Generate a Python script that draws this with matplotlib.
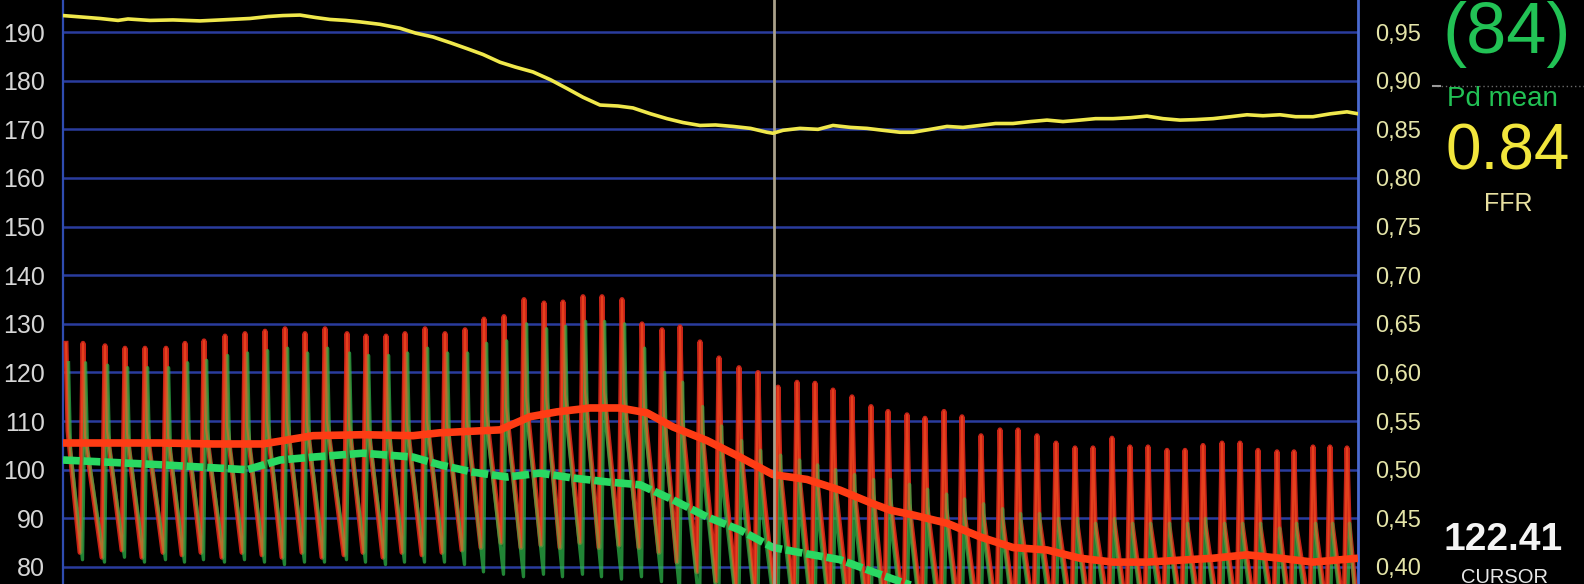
import numpy as np
import matplotlib
matplotlib.use("Agg")
import matplotlib.pyplot as plt
from matplotlib.lines import Line2D

# ---------------- data ----------------
# Beat (systolic peak) times, seconds
beat_t = [0.12, 0.80, 1.68, 2.48, 3.28, 4.12, 4.88, 5.64, 6.48, 7.28, 8.08, 8.88, 9.68, 10.48,
          11.36, 12.12, 12.92, 13.68, 14.48, 15.28,
          16.08, 16.84, 17.64, 18.44, 19.24, 20.00, 20.80, 21.56, 22.36, 23.16, 23.96, 24.68,
          25.48, 26.24, 27.04, 27.80, 28.60, 29.36, 30.08, 30.80, 31.56, 32.32, 33.00,
          33.76, 34.48, 35.24, 35.96, 36.72, 37.48, 38.20, 38.96, 39.72, 40.48, 41.20, 41.96,
          42.68, 43.40, 44.16, 44.88, 45.60, 46.36, 47.08, 47.80, 48.56, 49.24, 50.00, 50.68, 51.36]

# Aortic pressure (Pa, red) per beat: systolic peak, dicrotic level, following trough (mmHg)
pa_peak = [126, 126, 125.5, 125, 125, 125, 126, 126.5, 127.5, 128, 128.5, 129, 128, 129, 128,
           127.5, 127.5, 128, 129, 128,
           128.8, 131, 131.5, 135, 134.3, 134.5, 135.6, 135.6, 135, 130, 128.8, 129.4, 126.3,
           123, 121, 120, 117, 118, 117.8, 116.4, 115, 113, 112,
           111.3, 110.6, 112, 110.9, 107, 108.2, 108.2, 107, 105.5, 104.5, 104.5, 106.5, 104.7,
           104.7, 104, 104, 105, 105.5, 105.5, 104, 103.7, 103.7, 104.7, 104.7, 104.5]
pa_notch = [108, 107, 108, 107.5, 108, 107, 108, 108.5, 109, 109, 110, 110, 109.5, 110, 109.5,
            109, 109, 109.5, 110, 109.5,
            110, 112, 113, 115, 115, 115.5, 116, 116, 115, 113, 111, 110, 108, 106, 104, 102,
            100, 99, 98, 97, 96, 95, 94,
            93, 92.5, 92, 91.5, 91, 90.5, 90, 90, 89.5, 89, 89, 89.5, 89, 89, 88.5, 88.5, 89,
            89, 89, 88.5, 88.5, 88.5, 89, 89, 89]
pa_trough = [83, 82, 83.5, 82, 83, 82.5, 83, 82, 83, 82.5, 82, 83, 82, 82.5, 83, 82, 83, 82.5,
             83, 83.5,
             84, 85, 84, 84.5, 84, 85, 84, 84.5, 84, 83, 81, 79, 77, 75, 74, 73, 72.5, 72, 71.5,
             71, 70.5, 70, 70,
             70, 69.5, 70, 69.5, 69, 70, 69.5, 70, 69, 69.5, 70, 69.5, 69, 70, 69.5, 70, 69,
             69.5, 70, 69.5, 69, 70, 69.5, 70, 69.5]

# Distal pressure (Pd, green) per beat
pd_peak = [122, 122, 121.5, 121, 121, 121, 122, 122.5, 123.5, 124, 124.5, 125, 124, 125, 124,
           123.5, 123.5, 124, 125, 124,
           124, 126, 126.5, 130, 129, 129.5, 130.5, 130.5, 130, 125, 120, 118, 113, 109, 106,
           104, 103, 102, 101, 100, 99, 98, 98,
           97, 96, 95, 94, 93, 92, 91, 91, 90, 90, 89, 90, 89, 89, 89, 89, 90, 89, 89, 89, 88,
           89, 89, 89, 89]
pd_notch = [104, 104, 104.5, 104, 104, 103.5, 104, 104.5, 105, 105, 106, 106, 105.5, 106, 105,
            105, 105, 105, 105.5, 105,
            105, 106, 107, 108, 108, 108, 108.5, 108, 107.5, 106, 103, 100, 97, 95, 93, 91,
            90, 89, 88, 87.5, 87, 86.5, 86,
            85.5, 85, 85, 84.5, 84, 84, 83.5, 83.5, 83, 83, 83, 83, 82.5, 82.5, 82.5, 82.5, 83,
            82.5, 82.5, 82.5, 82, 82.5, 82.5, 82.5, 82.5]
pd_trough = [81.5, 81, 82, 81, 81.5, 81, 81.5, 81, 81.5, 81, 80.5, 81, 81, 81.5, 81, 80.5, 81,
             81, 81, 80.5,
             79, 78.5, 78, 78.5, 78, 78.5, 78, 77.5, 78, 77, 75, 72, 70, 68, 67, 66, 65, 64, 64,
             63, 63, 62, 62,
             62, 62, 62, 62, 62, 62, 62, 62, 62, 62, 62, 62, 62, 62, 62, 62, 62, 62, 62, 62, 62,
             62, 62, 62, 62]

# Mean pressures (mmHg)
pa_mean_t = [0.0, 4.0, 6.0, 8.0, 10.0, 12.0, 14.0, 15.08, 17.48, 18.68, 19.76, 21.08, 22.28,
             23.36, 24.4, 25.76, 27.08, 28.4, 29.76, 31.08, 32.4, 33.08, 34.0, 35.36, 36.68,
             38.0, 39.36, 40.68, 42.0, 43.36, 44.68, 46.0, 47.36, 48.68, 50.0, 51.8]
pa_mean = [105.5, 105.5, 105.3, 105.3, 107.0, 107.2, 107.0, 107.6, 108.2, 110.9, 111.9, 112.7,
           112.7, 111.7, 108.8, 106.0, 102.6, 99.0, 98.0, 95.8, 93.0, 91.7, 90.7, 89.0, 86.2,
           84.0, 83.5, 81.8, 81.0, 81.0, 81.4, 81.8, 82.5, 81.8, 81.0, 81.8]
pd_mean_t = [0.0, 2.0, 4.0, 6.0, 7.36, 8.68, 10.0, 12.0, 14.0, 15.08, 16.4, 17.76, 19.08, 20.4,
             21.76, 23.08, 24.4, 25.76, 27.08, 28.4, 29.76, 31.08, 32.4, 33.48, 34.68, 37.0,
             51.8]
pd_mean = [102.0, 101.5, 101.0, 100.4, 100.0, 102.0, 102.6, 103.4, 102.6, 101.0, 99.5, 98.5,
           99.3, 98.3, 97.5, 96.9, 93.8, 90.3, 87.6, 84.0, 82.7, 81.5, 79.0, 77.0, 75.0, 72.0,
           70.0]

# FFR (Pd/Pa) trace
ffr_t = [0.0, 0.5, 1.48, 2.2, 2.6, 3.48, 4.4, 5.48, 6.3, 7.48, 8.2, 8.8, 9.48, 10.1, 10.68,
         11.3, 11.88, 12.68, 13.48, 14.1, 14.8, 15.5, 16.16, 16.8, 17.48, 18.1, 18.8, 19.5,
         20.16, 20.8, 21.48, 22.2, 22.8, 23.5, 24.16, 24.8, 25.48, 26.1, 26.8, 27.5, 28.16,
         28.4, 28.8, 29.48, 30.2, 30.8, 31.5, 32.16, 32.8, 33.48, 34.0, 34.7, 35.36, 36.0,
         36.68, 37.3, 38.0, 38.7, 39.36, 40.0, 40.68, 41.3, 42.0, 42.7, 43.36, 44.0, 44.68,
         45.3, 46.0, 46.7, 47.36, 48.0, 48.68, 49.3, 50.0, 50.7, 51.36, 51.8]
ffr = [0.967, 0.966, 0.964, 0.962, 0.9635, 0.962, 0.9625, 0.9615, 0.9625, 0.964, 0.966, 0.967,
       0.9675, 0.965, 0.963, 0.962, 0.9605, 0.958, 0.954, 0.949, 0.945, 0.939, 0.933, 0.927,
       0.919, 0.914, 0.909, 0.901, 0.892, 0.883, 0.875, 0.874, 0.872, 0.866, 0.861, 0.857,
       0.854, 0.8545, 0.853, 0.851, 0.847, 0.846, 0.849, 0.851, 0.850, 0.854, 0.852, 0.851,
       0.849, 0.847, 0.847, 0.850, 0.853, 0.852, 0.854, 0.856, 0.856, 0.858, 0.8595, 0.858,
       0.8595, 0.861, 0.861, 0.862, 0.8636, 0.861, 0.8595, 0.860, 0.861, 0.863, 0.865, 0.864,
       0.865, 0.863, 0.863, 0.866, 0.868, 0.866]

left_ticks = [80, 90, 100, 110, 120, 130, 140, 150, 160, 170, 180, 190]
right_ticks = [0.40, 0.45, 0.50, 0.55, 0.60, 0.65, 0.70, 0.75, 0.80, 0.85, 0.90, 0.95]
right_labels = ["0,40", "0,45", "0,50", "0,55", "0,60", "0,65", "0,70", "0,75", "0,80",
                "0,85", "0,90", "0,95"]
cursor_t = 28.44
pd_mean_now = "(84)"
ffr_now = "0.84"
cursor_val = "122.41"

# ---------------- figure ----------------
W, H = 1584, 584
fig = plt.figure(figsize=(W / 100, H / 100), dpi=100, facecolor="black")
x0, x1 = 63, 1358
ax = fig.add_axes([x0 / W, 0, (x1 - x0) / W, 1])
ax.set_facecolor("black")
T_END = 51.8
ax.set_xlim(0, T_END)
ax.set_ylim(76.5, 196.6)

sans = ["Liberation Sans", "DejaVu Sans"]
ax.set_yticks(left_ticks)
ax.set_yticklabels([str(v) for v in left_ticks], family=sans)
ax.tick_params(axis="y", length=0, pad=13, labelsize=18, labelcolor="#d6d6d6")
ax.set_xticks([])
ax.yaxis.grid(True, color="#2a3c9e", lw=1.8)
ax.set_axisbelow(True)
for s in ("top", "bottom"):
    ax.spines[s].set_visible(False)
ax.spines["left"].set_color("#2f4cb0")
ax.spines["left"].set_linestyle((0, (1, 1)))
ax.spines["left"].set_linewidth(1.6)
ax.spines["right"].set_color("#4a6ad0")
ax.spines["right"].set_linewidth(2)

# pulsatile traces: peak -> dicrotic level -> trough before next upstroke
bt = np.asarray(beat_t)
trough_t = np.append(bt[1:] - 0.12, T_END)


def wave(peaks, notches, troughs, shift=0.0):
    n = len(bt)
    xs = np.empty(3 * n)
    ys = np.empty(3 * n)
    xs[0::3] = bt + shift
    xs[1::3] = bt + shift + 0.08
    xs[2::3] = trough_t + shift
    ys[0::3] = peaks
    ys[1::3] = notches
    ys[2::3] = troughs
    return xs, ys


rx, ry = wave(pa_peak, pa_notch, pa_trough)
gx, gy = wave(pd_peak, pd_notch, pd_trough, 0.1)
ax.plot(rx, ry, color="#d8261a", lw=3.6, alpha=0.92, zorder=3)
ax.plot(gx, gy, color="#2fb84a", lw=2.4, alpha=0.72, zorder=3.2)
ax.plot(rx, ry, color="#ff5a22", lw=1.5, alpha=0.55, zorder=3.3)

ax.plot(pa_mean_t, pa_mean, color="#ff3c14", lw=5.5, solid_capstyle="butt", zorder=5)
ax.plot(pd_mean_t, pd_mean, color="#2ad862", lw=5.5, ls=(0, (2.2, 0.5)), zorder=5.5)

ax.axvline(cursor_t, color="#a9a08a", lw=2, zorder=6)

# FFR on right axis
ax2 = ax.twinx()
ax2.set_ylim(0.3825, 0.983)
ax2.set_yticks(right_ticks)
ax2.set_yticklabels(right_labels, family=sans)
ax2.tick_params(axis="y", length=0, pad=12, labelsize=17, labelcolor="#e4e4a8")
for s in ("top", "bottom", "left", "right"):
    ax2.spines[s].set_visible(False)
ax2.plot(ffr_t, ffr, color="#f0e84c", lw=2.6, zorder=4)


# ---------------- right-hand readouts ----------------
def ft(x, y, s, **kw):
    fig.text(x / W, 1 - y / H, s, **kw)


ft(1507, 53, pd_mean_now, color="#22c255", fontsize=52, ha="center", va="baseline", family=sans)
ft(1502, 106, "Pd mean", color="#22c255", fontsize=20, ha="center", va="baseline", family=sans)
ft(1508, 170, ffr_now, color="#f2e63c", fontsize=46, ha="center", va="baseline", family=sans)
ft(1508, 211, "FFR", color="#e8e0a0", fontsize=18, ha="center", va="baseline", family=sans)
ft(1503, 550, cursor_val, color="#f4f4f4", fontsize=28, ha="center", va="baseline",
   family=sans, fontweight="bold")
ft(1504, 583, "CURSOR", color="#e8e8e8", fontsize=14.5, ha="center", va="baseline", family=sans)

fig.add_artist(Line2D([1437 / W, 1.0], [1 - 86 / H, 1 - 86 / H], color="#6a6a6a", lw=1,
                      ls=(0, (1, 2)), transform=fig.transFigure))
fig.add_artist(Line2D([1433 / W, 1440 / W], [1 - 86 / H, 1 - 86 / H], color="#9a9a9a", lw=1.5,
                      transform=fig.transFigure))

fig.savefig("out.png", dpi=100, facecolor="black")
